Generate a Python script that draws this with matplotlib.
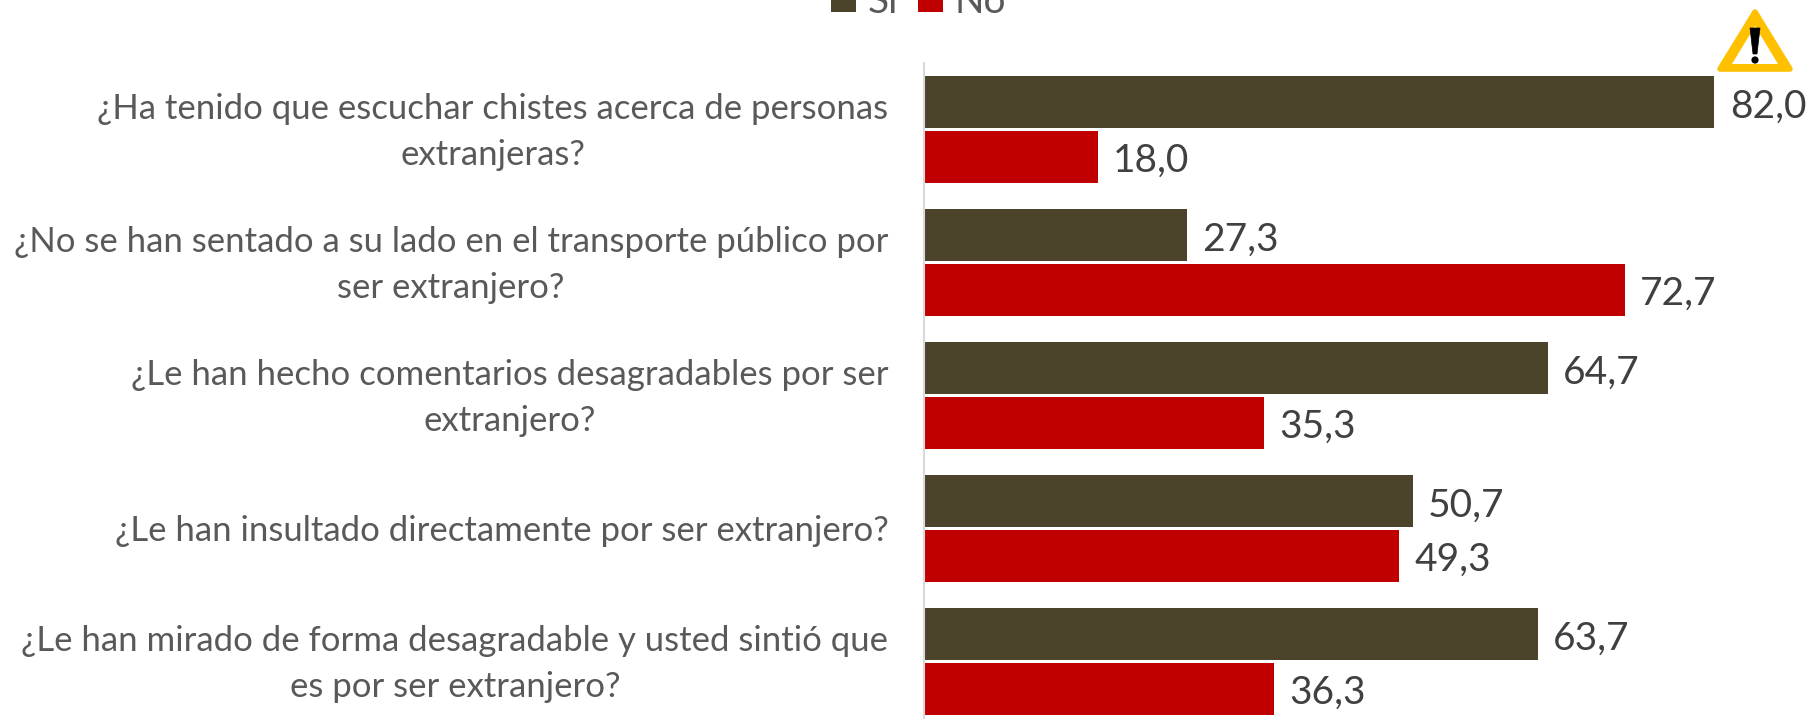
import numpy as np
import matplotlib.pyplot as plt
from matplotlib.patches import Polygon, Circle
from matplotlib.transforms import Affine2D, ScaledTranslation

plt.rcParams['font.family'] = ['Lato', 'DejaVu Sans']

# === Data ===
preguntas = [
    '¿Ha tenido que escuchar chistes acerca de personas\nextranjeras?',
    '¿No se han sentado a su lado en el transporte público por\nser extranjero?',
    '¿Le han hecho comentarios desagradables por ser\nextranjero?',
    '¿Le han insultado directamente por ser extranjero?',
    '¿Le han mirado de forma desagradable y usted sintió que\nes por ser extranjero?',
]
si = [82.0, 27.3, 64.7, 50.7, 63.7]
no = [18.0, 72.7, 35.3, 49.3, 36.3]

W, H = 1811, 719
fig = plt.figure(figsize=(W / 100, H / 100), dpi=100)
# axes edges in pixels, bottom runs past the picture like in the original
left, right, top, bottom = 924, 1811, 63, 728
ax = fig.add_axes([left / W, 1 - bottom / H, (right - left) / W, (bottom - top) / H])

# === Bars ===
y = np.arange(len(preguntas))
h = 0.39
off = 0.206
b1 = ax.barh(y - off, si, h, color='#4B442B', label='Sí')
b2 = ax.barh(y + off, no, h, color='#C00000', label='No')
ax.set_xlim(0, (right - left) / 9.64)
ax.set_ylim(len(preguntas) - 0.5, -0.5)

fmt = lambda v: f'{v:.1f}'.replace('.', ',')
for bars in (b1, b2):
    labels = ax.bar_label(bars, labels=[fmt(v) for v in bars.datavalues], padding=11,
                          fontsize=28, color='#404040', clip_on=False)
    # numbers sit a little below the bar centre
    for t in labels:
        t.xyann = (t.xyann[0], t.xyann[1] - 3)

# === Axes ===
ax.set_yticks(y)
ax.set_yticklabels(preguntas, fontsize=25, color='#595959', multialignment='center', linespacing=1.55)
ax.tick_params(axis='y', length=0, pad=25.7)
# two-line labels ride a bit higher than the row centre
up = ScaledTranslation(0, 7.5 / 100, fig.dpi_scale_trans)
for lab in ax.get_yticklabels():
    if '\n' in lab.get_text():
        lab.set_transform(lab.get_transform() + up)
ax.xaxis.set_visible(False)
for s in ['top', 'right', 'bottom']:
    ax.spines[s].set_visible(False)
ax.spines['left'].set_color('#D9D9D9')
ax.spines['left'].set_linewidth(1.5)

# === Legend (cut off by the top edge) ===
fig.legend(handles=[b1, b2], loc='lower center', bbox_to_anchor=(918.5 / W, 1 - 20 / H), ncol=2,
           frameon=False, fontsize=28, labelcolor='#595959', handlelength=0.65, handleheight=0.65,
           handletextpad=0.3, columnspacing=0.5, borderpad=0, borderaxespad=0)

# === Warning icon, in picture pixels ===
px = Affine2D().scale(1 / W, -1 / H).translate(0, 1) + fig.transFigure
icon = [
    Polygon([(1755, 12), (1720, 69), (1790, 69)], closed=True, fc='#FFC000', ec='#FFC000', lw=4,
            joinstyle='round', transform=px),
    Polygon([(1755, 26), (1732, 64), (1778, 64)], closed=True, fc='white', ec='none', transform=px),
    Polygon([(1750, 28), (1760, 28), (1757, 54), (1753, 54)], closed=True, fc='black', ec='black', lw=0.5,
            transform=px),
    Circle((1755, 60), 3.6, fc='black', ec='none', transform=px),
]
for p in icon:
    fig.add_artist(p)

fig.savefig('out.png', dpi=100)
